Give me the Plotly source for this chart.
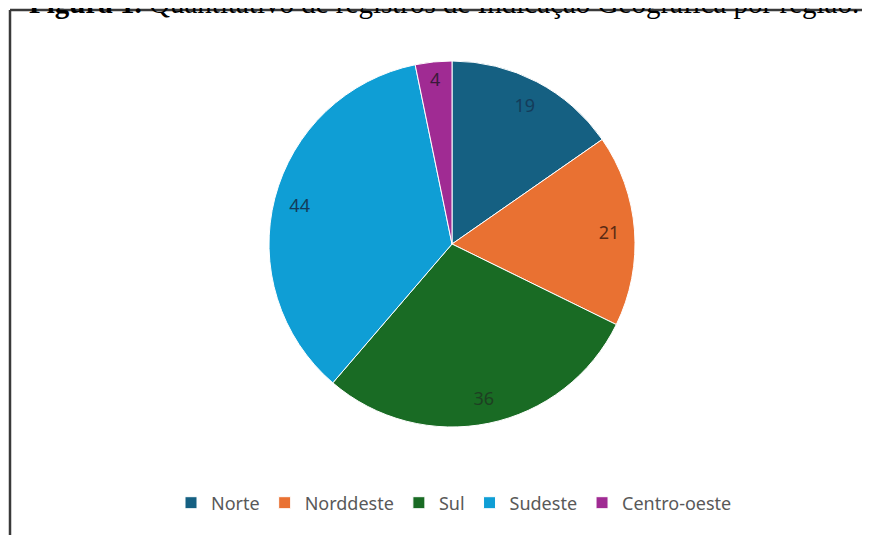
import plotly.graph_objects as go

regions = ["Norte", "Norddeste", "Sul", "Sudeste", "Centro-oeste"]
counts = [19, 21, 36, 44, 4]
slice_colors = ["#156082", "#E97132", "#196B24", "#0F9ED5", "#A02B93"]
label_colors = ["#143c5a", "#5a2a14", "#1e3f22", "#143c5a", "#3a1a3a"]
title_bold = "Figura 1."
title_rest = " Quantitativo de registros de Indicação Geográfica por região."

W, H = 870, 535
cx, cy, R = 444, 236, 183
dom_x = [(cx - R) / W, (cx + R) / W]
dom_y = [(H - cy - R) / H, (H - cy + R) / H]

fig = go.Figure()
fig.add_trace(go.Pie(
    labels=regions, values=counts, sort=False, direction="clockwise", rotation=0,
    marker=dict(colors=slice_colors, line=dict(color="white", width=1)),
    textinfo="none", domain=dict(x=dom_x, y=dom_y), showlegend=True,
))
fig.add_trace(go.Pie(
    labels=regions, values=counts, sort=False, direction="clockwise", rotation=0,
    hole=0.72,
    marker=dict(colors=["rgba(0,0,0,0)"] * len(regions), line=dict(width=0)),
    textinfo="value", textposition="inside", insidetextorientation="horizontal",
    textfont=dict(family="Noto Sans, sans-serif", size=18, color=label_colors),
    domain=dict(x=dom_x, y=dom_y), showlegend=False,
))

fig.update_layout(
    width=W, height=H,
    margin=dict(l=0, r=0, t=0, b=0),
    paper_bgcolor="white", plot_bgcolor="white",
    uniformtext=dict(minsize=18, mode="show"),
    legend=dict(
        orientation="h", x=446 / W, xanchor="center", y=1 - 495 / H, yanchor="middle",
        font=dict(family="Noto Sans, sans-serif", size=18, color="#595959"),
        traceorder="normal",
    ),
    shapes=[
        dict(type="line", xref="paper", yref="paper", x0=2 / W, x1=2 / W, y0=-0.05, y1=1 - 2 / H,
             line=dict(color="#3a3a3a", width=2.5)),
        dict(type="line", xref="paper", yref="paper", x0=2 / W, x1=1.05, y0=1 - 2 / H, y1=1 - 2 / H,
             line=dict(color="#3a3a3a", width=2.5)),
    ],
    annotations=[
        dict(text="<b>" + title_bold + "</b>" + title_rest, xref="paper", yref="paper",
             x=19 / W, y=1 + 5 / H, xanchor="left", yanchor="middle", showarrow=False,
             font=dict(family="Liberation Serif, serif", size=29, color="black")),
    ],
)

fig.write_html("out.html")
